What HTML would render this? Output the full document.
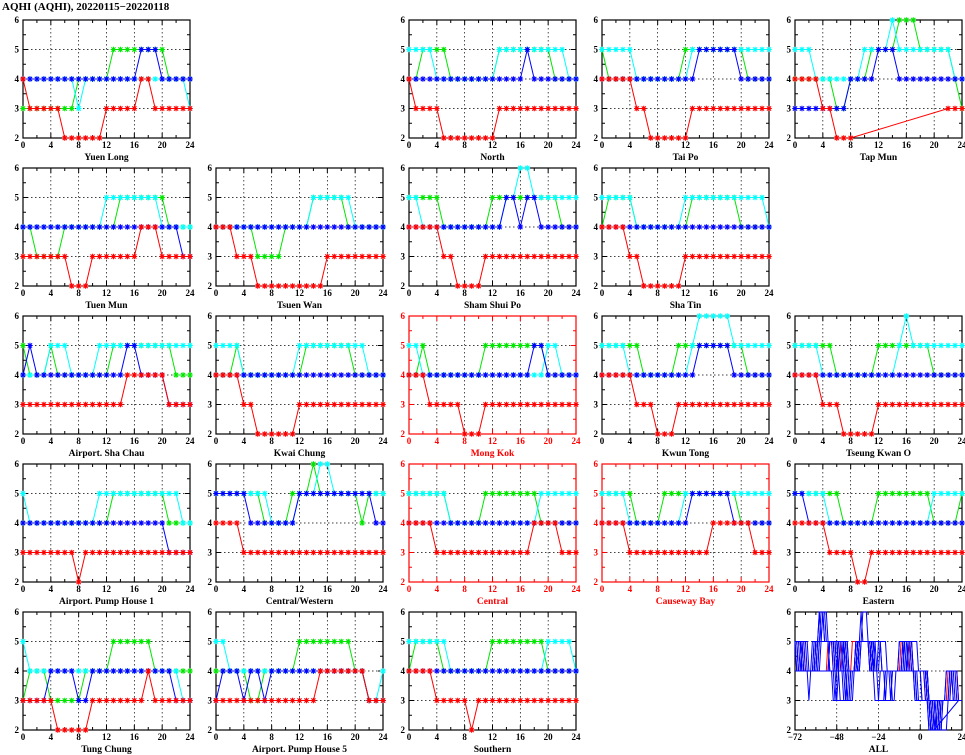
<!DOCTYPE html>
<html><head><meta charset="utf-8"><style>
html,body{margin:0;padding:0;background:#fff;width:965px;height:755px;overflow:hidden}
svg text{font-family:"Liberation Serif",serif;font-weight:bold}
</style></head><body>
<svg id="chart" width="965" height="755" viewBox="0 0 965 755" xmlns="http://www.w3.org/2000/svg">
<text x="2" y="10" font-size="11">AQHI (AQHI), 20220115−20220118</text>
</svg>
<script>
const stationNames = ["Yuen Long","North","Tai Po","Tap Mun","Tuen Mun","Tsuen Wan","Sham Shui Po","Sha Tin","Airport. Sha Chau","Kwai Chung","Mong Kok","Kwun Tong","Tseung Kwan O","Airport. Pump House 1","Central/Western","Central","Causeway Bay","Eastern","Tung Chung","Airport. Pump House 5","Southern"];
const stationCells = [[0,0],[0,2],[0,3],[0,4],[1,0],[1,1],[1,2],[1,3],[2,0],[2,1],[2,2],[2,3],[2,4],[3,0],[3,1],[3,2],[3,3],[3,4],[4,0],[4,1],[4,2]];
const highlighted = ["Mong Kok","Central","Causeway Bay"];
const xTicks = [0,4,8,12,16,20,24];
const yTicks = [2,3,4,5,6];
const allXTicks = [-72,-48,-24,0,24];
const N=null;
const redSeries = [
[4,3,3,3,3,3,2,2,2,2,2,2,3,3,3,3,3,4,4,3,3,3,3,3,3],
[4,3,3,3,3,2,2,2,2,2,2,2,2,3,3,3,3,3,3,3,3,3,3,3,3],
[4,4,4,4,4,3,3,2,2,2,2,2,2,3,3,3,3,3,3,3,3,3,3,3,3],
[4,4,4,4,3,3,2,2,2,N,N,N,N,N,N,N,N,N,N,N,N,N,3,3,3],
[3,3,3,3,3,3,3,2,2,2,3,3,3,3,3,3,3,4,4,4,3,3,3,3,3],
[4,4,4,3,3,3,2,2,2,2,2,2,2,2,2,2,3,3,3,3,3,3,3,3,3],
[4,4,4,4,4,3,3,2,2,2,2,3,3,3,3,3,3,3,3,3,3,3,3,3,3],
[4,4,4,4,3,3,2,2,2,2,2,2,3,3,3,3,3,3,3,3,3,3,3,3,3],
[3,3,3,3,3,3,3,3,3,3,3,3,3,3,3,4,4,4,4,4,4,3,3,3,3],
[4,4,4,4,3,3,2,2,2,2,2,2,3,3,3,3,3,3,3,3,3,3,3,3,3],
[4,4,4,3,3,3,3,3,2,2,2,3,3,3,3,3,3,3,3,3,3,3,3,3,3],
[4,4,4,4,4,3,3,3,2,2,2,3,3,3,3,3,3,3,3,3,3,3,3,3,3],
[4,4,4,4,3,3,3,2,2,2,2,2,3,3,3,3,3,3,3,3,3,3,3,3,3],
[3,3,3,3,3,3,3,3,2,3,3,3,3,3,3,3,3,3,3,3,3,3,3,3,3],
[4,4,4,4,3,3,3,3,3,3,3,3,3,3,3,3,3,3,3,3,3,3,3,3,3],
[4,4,4,4,3,3,3,3,3,3,3,3,3,3,3,3,3,3,4,4,4,4,3,3,3],
[4,4,4,4,3,3,3,3,3,3,3,3,3,3,3,3,4,4,4,4,4,4,3,3,3],
[4,4,4,4,4,3,3,3,3,2,2,3,3,3,3,3,3,3,3,3,3,3,3,3,3],
[3,3,3,3,3,2,2,2,2,2,3,3,3,3,3,3,3,3,4,3,3,3,3,3,3],
[3,3,3,3,3,3,3,3,3,3,3,3,3,3,3,4,4,4,4,4,4,4,3,3,3],
[4,4,4,4,3,3,3,3,3,2,3,3,3,3,3,3,3,3,3,3,3,3,3,3,3]];
const greenSeries = [
[3,3,3,3,3,3,3,3,4,4,4,4,4,5,5,5,5,5,5,5,5,4,4,4,4],
[4,4,5,5,5,5,4,4,4,4,4,4,4,5,5,5,5,5,5,5,5,4,4,4,4],
[5,4,4,4,4,4,4,4,4,4,4,4,5,5,5,5,5,5,5,5,5,4,4,4,4],
[4,4,4,4,4,4,3,3,4,4,4,5,5,5,5,6,6,6,5,5,5,5,5,4,3],
[4,4,3,3,3,3,4,4,4,4,4,4,4,4,5,5,5,5,5,5,5,4,4,4,4],
[4,4,4,4,4,4,3,3,3,3,4,4,4,4,5,5,5,5,5,4,4,4,4,4,4],
[5,5,5,5,5,4,4,4,4,4,4,4,5,5,5,5,5,5,5,5,5,5,4,4,4],
[4,5,5,5,5,4,4,4,4,4,4,4,4,5,5,5,5,5,5,5,4,4,4,4,4],
[5,4,4,4,5,4,4,4,4,4,4,4,4,5,5,5,5,5,5,5,5,5,4,4,4],
[4,4,4,5,4,4,4,4,4,4,4,4,4,5,5,5,5,5,5,5,4,4,4,4,4],
[4,4,5,4,4,4,4,4,4,4,4,5,5,5,5,5,5,5,5,5,4,4,4,4,4],
[5,5,5,5,5,5,4,4,4,4,4,5,5,5,5,5,5,5,5,5,5,4,4,4,4],
[5,5,5,5,5,5,4,4,4,4,4,4,5,5,5,5,5,5,5,5,4,4,4,4,4],
[4,4,4,4,4,4,4,4,4,4,4,4,4,5,5,5,5,5,5,5,5,4,4,4,4],
[5,5,5,5,5,5,5,4,4,4,4,5,5,5,6,5,5,5,5,5,5,4,5,5,5],
[5,5,5,5,5,5,4,4,4,4,4,5,5,5,5,5,5,5,5,4,4,4,4,4,4],
[5,5,5,5,5,4,4,4,4,5,5,5,5,5,5,5,5,5,5,5,4,4,4,4,4],
[5,5,5,5,5,5,5,4,4,4,4,4,5,5,5,5,5,5,5,5,4,4,4,4,5],
[3,4,4,4,3,3,3,3,3,4,4,4,4,5,5,5,5,5,5,4,4,4,4,4,4],
[4,4,4,4,4,3,3,4,4,4,4,4,5,5,5,5,5,5,5,5,4,4,3,3,3],
[4,5,5,5,5,4,4,4,4,4,4,4,5,5,5,5,5,5,5,5,4,4,4,4,4]];
const cyanSeries = [
[4,4,4,4,4,4,4,4,3,4,4,4,4,4,4,4,4,4,4,4,4,4,4,4,3],
[5,5,5,5,4,4,4,4,4,4,4,4,4,5,5,5,5,5,5,5,5,5,5,4,4],
[5,5,5,5,5,4,4,4,4,4,4,4,4,5,5,5,5,5,5,5,5,5,5,5,5],
[5,5,5,4,4,4,4,4,4,4,5,5,5,5,6,5,5,5,5,5,5,5,5,4,4],
[4,4,4,4,4,4,4,4,4,4,4,4,5,5,5,5,5,5,5,5,4,4,4,4,4],
[4,4,4,4,4,4,4,4,4,4,4,4,4,4,5,5,5,5,5,5,4,4,4,4,4],
[5,5,4,4,4,4,4,4,4,4,4,4,4,4,5,5,6,6,5,5,5,5,5,5,5],
[5,5,5,5,5,4,4,4,4,4,4,4,5,5,5,5,5,5,5,5,5,5,5,5,4],
[4,4,4,4,5,5,5,4,4,4,4,5,5,5,5,5,5,5,5,5,5,5,5,5,5],
[5,5,5,5,4,4,4,4,4,4,4,4,5,5,5,5,5,5,5,5,5,5,4,4,4],
[5,5,4,4,4,4,4,4,4,4,4,4,4,4,4,4,4,4,4,4,5,5,4,4,4],
[5,5,5,5,4,4,4,4,4,4,4,4,4,5,6,6,6,6,6,5,5,5,5,5,5],
[5,5,5,5,4,4,4,4,4,4,4,4,4,4,4,5,6,5,5,5,5,5,5,5,5],
[5,4,4,4,4,4,4,4,4,4,4,5,5,5,5,5,5,5,5,5,5,5,5,4,4],
[5,5,5,5,5,5,5,5,4,4,4,4,5,5,5,6,6,5,5,5,5,5,5,5,5],
[5,5,5,5,5,5,4,4,4,4,4,4,4,4,4,4,4,4,4,5,5,5,5,5,5],
[5,5,5,5,4,4,4,4,4,4,4,4,5,5,5,5,5,5,5,5,5,5,5,5,5],
[5,5,5,5,5,4,4,4,4,4,4,4,4,4,4,4,4,4,4,4,5,5,5,5,5],
[5,4,4,4,4,4,4,4,4,4,4,4,4,4,4,4,4,4,4,4,4,4,4,3,3],
[5,5,4,4,4,4,4,4,4,4,4,4,4,4,4,4,4,4,4,4,4,4,3,3,4],
[5,5,5,5,5,5,4,4,4,4,4,4,4,4,4,4,4,4,4,4,5,5,5,5,4]];
const blueSeries = [
[4,4,4,4,4,4,4,4,4,4,4,4,4,4,4,4,4,5,5,5,4,4,4,4,4],
[4,4,4,4,4,4,4,4,4,4,4,4,4,4,4,4,4,5,4,4,4,4,4,4,4],
[4,4,4,4,4,4,4,4,4,4,4,4,4,4,5,5,5,5,5,5,4,4,4,4,4],
[3,3,3,3,3,3,3,3,4,4,4,4,5,5,5,4,4,4,4,4,4,4,4,4,4],
[4,4,4,4,4,4,4,4,4,4,4,4,4,4,4,4,4,4,4,4,4,4,4,3,3],
[4,4,4,4,4,4,4,4,4,4,4,4,4,4,4,4,4,4,4,4,4,4,4,4,4],
[4,4,4,4,4,4,4,4,4,4,4,4,4,4,5,5,4,5,5,4,4,4,4,4,4],
[4,4,4,4,4,4,4,4,4,4,4,4,4,4,4,4,4,4,4,4,4,4,4,4,4],
[4,5,4,4,4,4,4,4,4,4,4,4,4,4,4,5,5,4,4,4,4,3,3,3,3],
[4,4,4,4,4,4,4,4,4,4,4,4,4,4,4,4,4,4,4,4,4,4,4,4,4],
[4,4,4,4,4,4,4,4,4,4,4,4,4,4,4,4,4,4,5,5,4,4,4,4,4],
[4,4,4,4,4,4,4,4,4,4,4,4,4,4,5,5,5,5,5,4,4,4,4,4,4],
[4,4,4,4,4,4,4,4,4,4,4,4,4,4,4,4,4,4,4,4,4,4,4,4,4],
[4,4,4,4,4,4,4,4,4,4,4,4,4,4,4,4,4,4,4,4,4,3,3,3,3],
[5,5,5,5,5,4,4,4,4,4,4,4,5,5,5,5,5,5,5,5,5,5,5,4,4],
[4,4,4,4,4,4,4,4,4,4,4,4,4,4,4,4,4,4,4,4,4,4,4,4,4],
[4,4,4,4,4,4,4,4,4,4,4,4,4,5,5,5,5,5,5,4,4,4,4,4,4],
[5,5,4,4,4,4,4,4,4,4,4,4,4,4,4,4,4,4,4,4,4,4,4,4,4],
[3,3,3,3,4,4,4,4,3,3,4,4,4,4,4,4,4,4,4,4,4,4,3,3,3],
[3,4,4,4,3,4,4,3,4,4,4,4,4,4,4,4,4,4,4,4,4,4,3,3,3],
[4,4,4,4,4,4,4,4,4,4,4,4,4,4,4,4,4,4,4,4,4,4,4,4,4]];
// day offsets for ALL panel: cyan=day1, green=day2, blue=day3, red=day4
const allDayOffsets = [-72,-48,-24,0];

const svg=document.getElementById('chart');
const NS='http://www.w3.org/2000/svg';
const COL0=23, COLW=193, ROW0=20, ROWH=148, PW=167, PH=118;
const RED='#ff0000', GREEN='#00e600', CYAN='#00ffff', BLUE='#0000ff';
function mk(tag,attrs,parent){const e=document.createElementNS(NS,tag);for(const k in attrs)e.setAttribute(k,attrs[k]);(parent||svg).appendChild(e);return e;}

function drawAxes(g,x0,y0,xmin,xmax,xt,minorStep,col,name){
  const sx=v=>x0+(v-xmin)/(xmax-xmin)*PW;
  const sy=v=>y0+PH-(v-2)/4*PH;
  xt.forEach(t=>{if(t>xmin&&t<xmax){const l=mk('line',{x1:sx(t),x2:sx(t),y1:y0,y2:y0+PH,stroke:'#000','stroke-width':0.7,'stroke-dasharray':'1.5,2.5'},g);}});
  yTicks.forEach(t=>{if(t>2&&t<6){const l=mk('line',{x1:x0,x2:x0+PW,y1:sy(t),y2:sy(t),stroke:'#000','stroke-width':0.7,'stroke-dasharray':'1.5,2.5'},g);}});
  for(let v=xmin;v<=xmax;v+=minorStep){const major=xt.includes(v);const L=major?5:3;
    mk('line',{x1:sx(v),x2:sx(v),y1:y0+PH,y2:y0+PH-L,stroke:col,'stroke-width':1},g);
    mk('line',{x1:sx(v),x2:sx(v),y1:y0,y2:y0+L,stroke:col,'stroke-width':1},g);}
  for(let v=2;v<=6;v+=0.5){const L=(v%1===0)?5:3;
    mk('line',{x1:x0,x2:x0+L,y1:sy(v),y2:sy(v),stroke:col,'stroke-width':1},g);
    mk('line',{x1:x0+PW,x2:x0+PW-L,y1:sy(v),y2:sy(v),stroke:col,'stroke-width':1},g);}
  xt.forEach(t=>{const tx=mk('text',{x:sx(t),y:y0+PH+10,'font-size':9,'text-anchor':'middle',fill:col},g);tx.textContent=(t<0?'−'+(-t):t);});
  yTicks.forEach(t=>{const tx=mk('text',{x:x0-4,y:sy(t)+3,'font-size':9,'text-anchor':'end',fill:col},g);tx.textContent=t;});
  const fr=mk('rect',{x:x0,y:y0,width:PW,height:PH,fill:'none',stroke:col,'stroke-width':1.2},g);
  
  const tt=mk('text',{x:x0+PW/2,y:y0+PH+22,'font-size':9.5,'text-anchor':'middle',fill:col},g);
  tt.textContent=name;
  return {sx,sy};
}
function drawSeries(g,vals,color,sx,sy,markers,off){
  let d='';let pen=false;
  vals.forEach((v,i)=>{if(v===null)return;d+=(pen?'L':'M')+sx(i+off).toFixed(2)+','+sy(v).toFixed(2);pen=true;});
  const p=mk('path',{d:d,fill:'none',stroke:color,'stroke-width':1},g);
  
  if(!markers)return;
  vals.forEach((v,i)=>{if(v===null)return;const x=sx(i+off),y=sy(v),r=2.8;
    const m=mk('path',{d:`M${x-r},${y}H${x+r}M${x},${y-r}V${y+r}M${x-r*0.75},${y-r*0.75}L${x+r*0.75},${y+r*0.75}M${x-r*0.75},${y+r*0.75}L${x+r*0.75},${y-r*0.75}`,stroke:color,'stroke-width':1.1},g);
    });
}
stationNames.forEach((name,s)=>{
  const [r,c]=stationCells[s];
  const x0=COL0+c*COLW,y0=ROW0+r*ROWH;
  const col=highlighted.includes(name)?RED:'#000';
  const g=mk('g',{});
  
  
  const {sx,sy}=drawAxes(g,x0,y0,0,24,xTicks,2,col,name);
  drawSeries(g,greenSeries[s],GREEN,sx,sy,true,0);
  drawSeries(g,cyanSeries[s],CYAN,sx,sy,true,0);
  drawSeries(g,blueSeries[s],BLUE,sx,sy,true,0);
  drawSeries(g,redSeries[s],RED,sx,sy,true,0);
});
(function(){
  const x0=COL0+4*COLW,y0=ROW0+4*ROWH;
  const g=mk('g',{});
  
  
  const {sx,sy}=drawAxes(g,x0,y0,-72,24,allXTicks,6,'#000','ALL');
  const order=stationNames.map((n,i)=>i).sort((a,b)=>(highlighted.includes(stationNames[b])?1:0)-(highlighted.includes(stationNames[a])?1:0));
  order.forEach(s=>{
    const col=highlighted.includes(stationNames[s])?RED:BLUE;
    [cyanSeries[s],greenSeries[s],blueSeries[s],redSeries[s]].forEach((ser,k)=>{
      drawSeries(g,ser,col,sx,sy,false,allDayOffsets[k]);
    });
  });
})();
</script>
</body></html>
